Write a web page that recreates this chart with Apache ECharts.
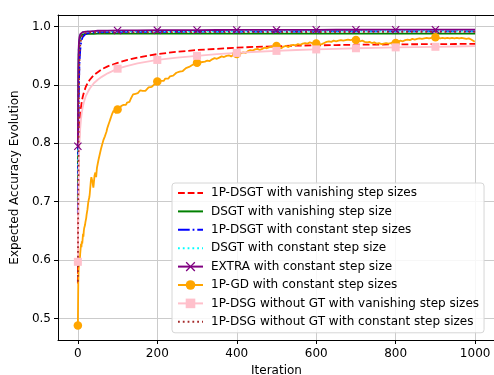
<!DOCTYPE html>
<html><head><meta charset="utf-8">
<script src="https://cdn.jsdelivr.net/npm/echarts@6/dist/echarts.min.js"></script>
<style>html,body{margin:0;padding:0;background:#fff}#c{width:494px;height:375px}</style>
</head><body><div id="c"></div>
<script>
var xTicks = [0, 200, 400, 600, 800, 1000];
var yTicks = [0.5, 0.6, 0.7, 0.8, 0.9, 1.0];
var names = [
  '1P-DSGT with vanishing step sizes',
  'DSGT with vanishing step size',
  '1P-DSGT with constant step sizes',
  'DSGT with constant step size',
  'EXTRA with constant step size',
  '1P-GD with constant step sizes',
  '1P-DSG without GT with vanishing step sizes',
  '1P-DSG without GT with constant step sizes'
];
var xs = [0,1,2,3,4,5,6,8,10,12,15,20,25,30,40,50,60,75,100,125,150,200,250,300,350,400,450,500,550,600,650,700,750,800,850,900,950,1000];
var redV = [0.56,0.70,0.77,0.805,0.825,0.838,0.848,0.862,0.872,0.879,0.887,0.897,0.904,0.909,0.917,0.922,0.927,0.932,0.938,0.943,0.947,0.953,0.957,0.960,0.962,0.964,0.9655,0.9665,0.9675,0.968,0.9685,0.969,0.9693,0.9696,0.9699,0.970,0.9703,0.9705];
var greenV = [0.70,0.90,0.95,0.968,0.976,0.980,0.983,0.985,0.986,0.9865,0.987,0.9873,0.9875,0.9876,0.9878,0.988,0.988,0.988,0.988,0.988,0.988,0.988,0.988,0.988,0.988,0.988,0.988,0.988,0.988,0.988,0.988,0.988,0.988,0.988,0.988,0.988,0.988,0.988];
var blueV = [0.68,0.80,0.87,0.91,0.935,0.95,0.96,0.972,0.978,0.982,0.985,0.988,0.989,0.9895,0.990,0.9903,0.9905,0.9907,0.991,0.991,0.991,0.9912,0.9913,0.9914,0.9915,0.9915,0.9916,0.9916,0.9917,0.9917,0.9918,0.9918,0.9919,0.9919,0.992,0.992,0.992,0.992];
var cyanV = [0.745,0.93,0.962,0.975,0.981,0.985,0.987,0.989,0.990,0.9905,0.991,0.9915,0.9917,0.9918,0.992,0.992,0.992,0.9921,0.9922,0.9922,0.9923,0.9924,0.9925,0.9925,0.9926,0.9926,0.9927,0.9927,0.9928,0.9928,0.9928,0.9929,0.9929,0.9929,0.993,0.993,0.993,0.993];
var purpleV = [0.795,0.925,0.962,0.976,0.982,0.985,0.987,0.989,0.990,0.9905,0.991,0.9915,0.992,0.992,0.9925,0.993,0.993,0.9932,0.9935,0.9937,0.9938,0.994,0.9941,0.9942,0.9943,0.9944,0.9945,0.9945,0.9946,0.9946,0.9947,0.9947,0.9948,0.9948,0.9949,0.9949,0.995,0.995];
var pinkV = [0.597,0.68,0.745,0.78,0.80,0.815,0.826,0.842,0.853,0.861,0.870,0.881,0.888,0.894,0.903,0.909,0.914,0.920,0.928,0.933,0.937,0.943,0.947,0.950,0.953,0.955,0.957,0.9585,0.960,0.961,0.962,0.963,0.9638,0.9645,0.965,0.9655,0.966,0.9665];
var brownV = [0.563,0.72,0.84,0.905,0.94,0.958,0.968,0.978,0.983,0.986,0.988,0.989,0.9895,0.990,0.990,0.990,0.990,0.9901,0.9902,0.9903,0.9904,0.9905,0.9906,0.9906,0.9907,0.9907,0.9908,0.9908,0.9908,0.9909,0.9909,0.9909,0.991,0.991,0.991,0.991,0.991,0.991];
var orangeX = [0,1,2,3,4,5,6,7,8,9,10,11,12,13,14,15,16,17,18,19,20,21,22,23,24,25,26,27,28,29,30,31,32,33,34,35,36,37,38,39,40,41,42,43,44,45,46,47,48,50,52,54,56,58,60,62,64,66,68,70,72,74,76,78,80,82,84,86,88,90,92,94,96,98,100,103,106,109,112,115,118,121,124,127,130,133,136,139,142,145,148,151,154,157,160,163,166,170,174,178,182,186,190,194,198,200,204,208,212,216,220,224,228,232,236,240,244,248,252,256,260,264,268,272,276,280,285,290,295,300,305,310,315,320,326,332,338,344,350,356,362,368,374,380,386,392,400,404,410,416,422,428,434,440,446,452,458,464,470,476,482,488,494,500,506,512,518,524,530,536,542,548,554,560,566,572,578,584,590,596,600,608,614,620,626,632,638,644,650,656,662,668,674,680,686,692,700,704,710,716,722,728,734,740,746,752,758,764,770,776,782,788,794,800,806,812,818,824,830,836,842,848,854,860,866,872,878,884,890,896,900,906,912,918,924,930,936,942,948,954,960,966,972,978,984,990,995,999];
var orangeV = [0.488,0.56,0.585,0.594,0.598,0.602,0.612,0.62,0.628,0.622,0.632,0.628,0.636,0.645,0.640,0.650,0.655,0.652,0.660,0.665,0.664,0.672,0.678,0.676,0.686,0.692,0.698,0.702,0.700,0.708,0.714,0.722,0.730,0.738,0.742,0.745,0.740,0.734,0.728,0.724,0.730,0.738,0.745,0.748,0.750,0.746,0.742,0.750,0.758,0.765,0.772,0.778,0.784,0.790,0.795,0.800,0.805,0.808,0.812,0.816,0.820,0.826,0.830,0.834,0.838,0.842,0.846,0.850,0.853,0.856,0.858,0.855,0.852,0.856,0.858,0.855,0.860,0.864,0.862,0.866,0.868,0.866,0.870,0.873,0.871,0.876,0.880,0.884,0.887,0.885,0.888,0.886,0.889,0.891,0.888,0.890,0.892,0.890,0.893,0.896,0.894,0.897,0.899,0.902,0.905,0.906,0.904,0.907,0.909,0.907,0.911,0.913,0.911,0.915,0.918,0.916,0.919,0.921,0.920,0.923,0.926,0.924,0.927,0.929,0.928,0.931,0.933,0.935,0.937,0.938,0.936,0.939,0.937,0.940,0.942,0.941,0.944,0.946,0.945,0.947,0.949,0.948,0.950,0.951,0.949,0.952,0.953,0.951,0.954,0.956,0.955,0.958,0.960,0.959,0.961,0.962,0.960,0.962,0.964,0.963,0.965,0.966,0.965,0.967,0.964,0.963,0.966,0.967,0.965,0.968,0.969,0.968,0.970,0.969,0.971,0.972,0.971,0.973,0.972,0.970,0.971,0.969,0.970,0.972,0.974,0.975,0.974,0.976,0.975,0.976,0.977,0.976,0.977,0.978,0.977,0.978,0.977,0.976,0.975,0.976,0.974,0.973,0.974,0.972,0.973,0.971,0.972,0.970,0.971,0.972,0.971,0.972,0.973,0.972,0.974,0.976,0.975,0.977,0.978,0.977,0.979,0.978,0.979,0.980,0.979,0.980,0.981,0.980,0.981,0.982,0.982,0.981,0.980,0.981,0.980,0.981,0.980,0.981,0.980,0.981,0.980,0.981,0.980,0.979,0.980,0.978,0.976,0.974];

var FONT = 'DejaVu Sans';
var LW = 1.8;
var xMark = 'path://M0,1 L1,0 L5,4 L9,0 L10,1 L6,5 L10,9 L9,10 L5,6 L1,10 L0,9 L4,5 Z';

function build(xArr, yArr, marked) {
  return xArr.map(function (x, i) {
    var item = { value: [x, yArr[i]] };
    if (!marked || !(x % 100 === 0 && x < 1000)) item.symbol = 'none';
    return item;
  });
}
function mk(name, color, yArr, type, symbol, size, xArr) {
  return {
    name: name, type: 'line',
    data: build(xArr || xs, yArr, !!symbol),
    symbol: symbol || 'none', symbolSize: size || 8, showSymbol: true,
    lineStyle: { color: color, width: LW, type: type || 'solid' },
    itemStyle: { color: color },
    emphasis: { disabled: true }
  };
}
var series = [
  mk(names[0], '#ff0000', redV, [6.8, 2.9]),
  mk(names[1], '#008000', greenV, 'solid'),
  mk(names[2], '#0000ff', blueV, [11.7, 2.9, 1.8, 2.9]),
  mk(names[3], '#00ffff', cyanV, [1.8, 3]),
  mk(names[4], '#800080', purpleV, 'solid', xMark, 8),
  mk(names[5], '#ffa500', orangeV, 'solid', 'circle', 8.5, orangeX),
  mk(names[6], '#ffc0cb', pinkV, 'solid', 'rect', 8),
  mk(names[7], '#a52a2a', brownV, [1.8, 3])
];
var hasMarker = [false, false, false, false, true, true, true, false];
var legendData = names.map(function (n, i) {
  return hasMarker[i] ? { name: n } : { name: n, itemStyle: { opacity: 0, color: 'rgba(0,0,0,0)', borderWidth: 0 } };
});

var spine = { show: true, onZero: false, lineStyle: { color: '#000', width: 1 } };
var chart = echarts.init(document.getElementById('c'), null, { renderer: 'canvas' });
chart.setOption({
  animation: false,
  backgroundColor: '#fff',
  grid: { left: 58, top: 15, width: 437, height: 325, containLabel: false, outerBoundsMode: 'none' },
  xAxis: [{
    type: 'value', min: -50, max: 1050,
    name: 'Iteration', nameLocation: 'middle', nameGap: 25,
    nameTextStyle: { fontFamily: FONT, fontSize: 12, color: '#000' },
    axisLine: spine,
    axisTick: { show: true, length: 4, inside: false, customValues: xTicks, lineStyle: { color: '#000' } },
    axisLabel: { customValues: xTicks, fontFamily: FONT, fontSize: 12, color: '#000', margin: 8,
      formatter: function (v) { return String(v); } },
    splitLine: { show: true, lineStyle: { color: '#cbcbcb', width: 1 } }
  }, {
    type: 'value', position: 'top', min: -50, max: 1050,
    axisLine: spine, axisTick: { show: false }, axisLabel: { show: false }, splitLine: { show: false }
  }],
  yAxis: [{
    type: 'value', min: 0.463, max: 1.02,
    name: 'Expected Accuracy Evolution', nameLocation: 'middle', nameGap: 34,
    nameTextStyle: { fontFamily: FONT, fontSize: 12, color: '#000' },
    axisLine: spine,
    axisTick: { show: true, length: 4, inside: false, customValues: yTicks, lineStyle: { color: '#000' } },
    axisLabel: { customValues: yTicks, fontFamily: FONT, fontSize: 12, color: '#000', margin: 7,
      formatter: function (v) { return v.toFixed(1); } },
    splitLine: { show: true, lineStyle: { color: '#cbcbcb', width: 1 } }
  }, {
    type: 'value', position: 'right', min: 0.463, max: 1.02,
    axisLine: spine, axisTick: { show: false }, axisLabel: { show: false }, splitLine: { show: false }
  }],
  legend: {
    orient: 'vertical', left: 172, top: 183,
    itemWidth: 25, itemHeight: 12, itemGap: 6.4,
    padding: [4, 5, 5, 5],
    backgroundColor: 'rgba(255,255,255,0.85)',
    borderColor: '#d6d6d6', borderWidth: 1, borderRadius: 3,
    textStyle: { fontFamily: FONT, fontSize: 12, color: '#000', lineHeight: 12, padding: [0, 0, 0, 3] },
    data: legendData
  },
  series: series
});
</script></body></html>
